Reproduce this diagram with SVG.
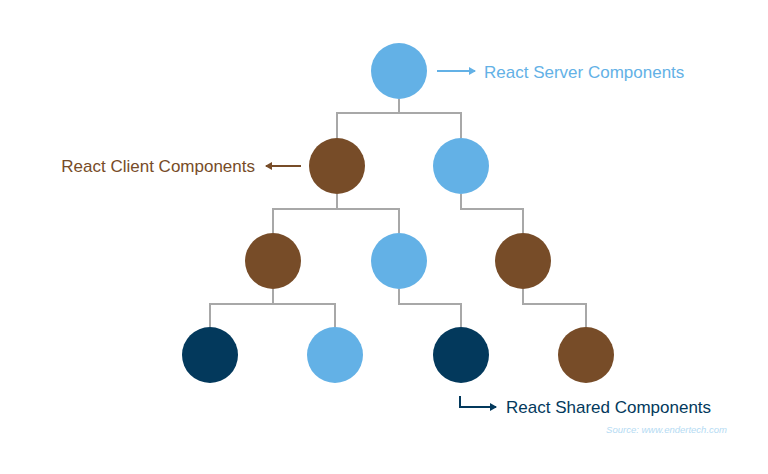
<svg xmlns="http://www.w3.org/2000/svg" width="768" height="474" viewBox="0 0 768 474">
<style>
.c{fill:none;stroke:#a8a8a8;stroke-width:2}
.l{fill:#63b1e6}.b{fill:#774c28}.d{fill:#03395c}
text{font-family:"Liberation Sans",Arial,sans-serif;font-size:17px}
</style>
<defs>
<marker id="ab" markerWidth="8" markerHeight="8" refX="6" refY="4" orient="auto" markerUnits="userSpaceOnUse"><path d="M0,0L7,4L0,8z" fill="#63b1e6"/></marker>
<marker id="ar" markerWidth="8" markerHeight="8" refX="6" refY="4" orient="auto" markerUnits="userSpaceOnUse"><path d="M0,0L7,4L0,8z" fill="#774c28"/></marker>
<marker id="ad" markerWidth="8" markerHeight="8" refX="6" refY="4" orient="auto" markerUnits="userSpaceOnUse"><path d="M0,0L7,4L0,8z" fill="#03395c"/></marker>
</defs>
<rect width="768" height="474" fill="#fff"/>
<g id="connectors">
<path class="c" d="M399,99V113M337,138V113H461V138"/>
<path class="c" d="M337,194V209M273,233V209H399V233"/>
<path class="c" d="M461,194V209H523V233"/>
<path class="c" d="M273,289V304M210,327V304H335V327"/>
<path class="c" d="M399,289V304H461V327"/>
<path class="c" d="M523,289V304H586V327"/>
<path d="M437,71H475" stroke="#63b1e6" stroke-width="2" fill="none" marker-end="url(#ab)"/>
<path d="M301,166H266" stroke="#774c28" stroke-width="2" fill="none" marker-end="url(#ar)"/>
<path d="M460,396V407H496" stroke="#03395c" stroke-width="2" fill="none" marker-end="url(#ad)"/>
</g>
<g id="n1"><circle class="l" cx="399" cy="71" r="28"/></g>
<g id="n2"><circle class="b" cx="337" cy="166" r="28"/></g>
<g id="n3"><circle class="l" cx="461" cy="166" r="28"/></g>
<g id="n4"><circle class="b" cx="273" cy="261" r="28"/></g>
<g id="n5"><circle class="l" cx="399" cy="261" r="28"/></g>
<g id="n6"><circle class="b" cx="523" cy="261" r="28"/></g>
<g id="n7"><circle class="d" cx="210" cy="355" r="28"/></g>
<g id="n8"><circle class="l" cx="335" cy="355" r="28"/></g>
<g id="n9"><circle class="d" cx="461" cy="355" r="28"/></g>
<g id="n10"><circle class="b" cx="586" cy="355" r="28"/></g>
<text x="484" y="78" fill="#63b1e6">React Server Components</text>
<text x="255" y="172" fill="#774c28" text-anchor="end">React Client Components</text>
<text x="506" y="413" fill="#03395c">React Shared Components</text>
<text x="727" y="433" fill="#b5dbf3" font-style="italic" text-anchor="end" style="font-size:9.5px">Source: www.endertech.com</text>
</svg>
